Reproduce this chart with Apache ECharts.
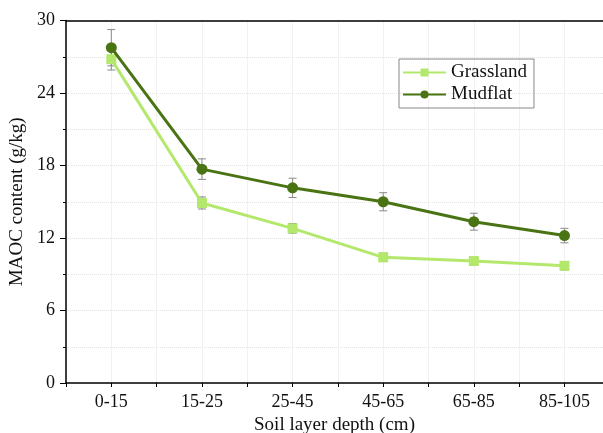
<!DOCTYPE html>
<html><head><meta charset="utf-8">
<script src="https://cdn.jsdelivr.net/npm/echarts@6/dist/echarts.min.js"></script>
<style>html,body{margin:0;padding:0;background:#fff}#c{width:603px;height:433px}</style>
</head><body><div id="c"></div>
<script>
var categories = ['0-15','15-25','25-45','45-65','65-85','85-105'];
var grassland = [26.8, 14.9, 12.8, 10.4, 10.1, 9.7];
var grasslandErr = [0.9, 0.5, 0.4, 0.35, 0.35, 0.35];
var mudflat = [27.75, 17.7, 16.15, 15.0, 13.35, 12.2];
var mudflatErr = [1.5, 0.85, 0.8, 0.75, 0.7, 0.6];
var yTicks = [0, 6, 12, 18, 24, 30];

var font = 'Liberation Serif';
function pts(vals){ return vals.map(function(v,i){ return [2*i+1, v]; }); }
function errData(vals, errs){ return vals.map(function(v,i){ return [2*i+1, v-errs[i], v+errs[i]]; }); }
function errSeries(vals, errs){
  return {
    type:'custom', silent:true, z:1,
    data: errData(vals, errs),
    renderItem:function(params, api){
      var x = api.value(0);
      var lo = api.coord([x, api.value(1)]);
      var hi = api.coord([x, api.value(2)]);
      var w = 4;
      var st = {stroke:'#8a8a8a', lineWidth:1};
      return {type:'group', children:[
        {type:'line', shape:{x1:lo[0],y1:lo[1],x2:hi[0],y2:hi[1]}, style:st},
        {type:'line', shape:{x1:lo[0]-w,y1:lo[1],x2:lo[0]+w,y2:lo[1]}, style:st},
        {type:'line', shape:{x1:hi[0]-w,y1:hi[1],x2:hi[0]+w,y2:hi[1]}, style:st}
      ]};
    }
  };
}
var chart = echarts.init(document.getElementById('c'));
var split = {show:true, lineStyle:{color:'#e4e4e4', type:'dotted', width:1}};
chart.setOption({
  animation:false,
  textStyle:{fontFamily:font},
  grid:{left:66, top:20.5, right:0, bottom:50, outerBoundsMode:'none', containLabel:false},
  legend:{
    left:399, top:59, orient:'vertical',
    padding:[4,7,4,3], itemGap:3,
    borderColor:'#888', borderWidth:1,
    itemWidth:43, itemHeight:10,
    textStyle:{fontFamily:font, fontSize:19, lineHeight:19, color:'#111'},
    data:['Grassland','Mudflat']
  },
  xAxis:[{
    type:'value', min:0, max:11.85, interval:1,
    axisLine:{show:true, lineStyle:{color:'#000', width:1.5}},
    axisTick:{show:true, length:4, lineStyle:{color:'#000'}},
    axisLabel:{fontSize:18, color:'#111', fontFamily:font, margin:10, showMaxLabel:false,
      formatter:function(v){ return (v%2===1) ? categories[(v-1)/2] : ''; }},
    splitLine:split,
    name:'Soil layer depth (cm)', nameLocation:'middle', nameGap:33,
    nameTextStyle:{fontSize:19, color:'#111', fontFamily:font}
  },{
    type:'value', position:'top', min:0, max:11.85,
    axisLine:{show:true, lineStyle:{color:'#000', width:1.5}},
    axisTick:{show:false}, axisLabel:{show:false}, splitLine:{show:false}
  }],
  yAxis:{
    type:'value', min:0, max:30, interval:6,
    axisLine:{show:true, lineStyle:{color:'#000', width:1.5}},
    axisTick:{show:true, length:6, lineStyle:{color:'#000'}},
    minorTick:{show:true, splitNumber:2, length:3, lineStyle:{color:'#000'}},
    minorSplitLine:split,
    axisLabel:{fontSize:18, color:'#111', fontFamily:font, margin:11,
      formatter:function(v){ return yTicks.indexOf(v)>=0 ? String(v) : ''; }},
    splitLine:split,
    name:'MAOC content (g/kg)', nameLocation:'middle', nameGap:34,
    nameTextStyle:{fontSize:19, color:'#111', fontFamily:font}
  },
  series:[
    errSeries(grassland, grasslandErr),
    errSeries(mudflat, mudflatErr),
    {name:'Grassland', type:'line', data:pts(grassland), symbol:'rect', symbolSize:10, z:3,
      itemStyle:{color:'#b4e86c'}, lineStyle:{color:'#b4e86c', width:3}},
    {name:'Mudflat', type:'line', data:pts(mudflat), symbol:'circle', symbolSize:11, z:4,
      itemStyle:{color:'#4a7414'}, lineStyle:{color:'#4a7414', width:3}}
  ]
});
</script></body></html>
